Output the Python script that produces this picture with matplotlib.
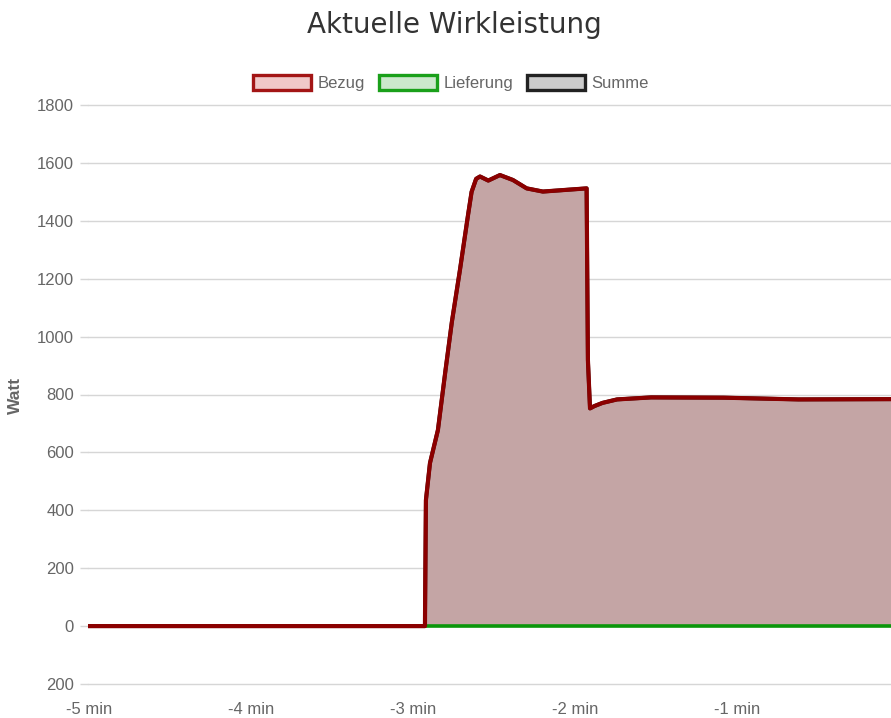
import matplotlib
matplotlib.use('Agg')
import matplotlib.pyplot as plt
from matplotlib.patches import Patch

# Zeitachse in Minuten, Leistung in Watt
zeit = [-5.0, -2.938, -2.926, -2.920, -2.895, -2.846, -2.80, -2.760, -2.710,
        -2.660, -2.638, -2.610, -2.586, -2.535, -2.463, -2.383, -2.298,
        -2.198, -2.051, -1.928, -1.920, -1.907, -1.880, -1.830, -1.740,
        -1.530, -1.080, -0.620, -0.049]
bezug = [0, 0, 0, 435, 563, 677, 880, 1050, 1230,
         1420, 1500, 1545, 1553, 1539, 1558, 1541, 1512,
         1501, 1507, 1512, 919, 752, 760, 771, 783,
         790, 789, 783, 784]
lieferung = [0] * len(zeit)
summe = [b - l for b, l in zip(bezug, lieferung)]

y_ticks = [-200, 0, 200, 400, 600, 800, 1000, 1200, 1400, 1600, 1800]
x_ticks = [-5, -4, -3, -2, -1]
x_labels = ['-5 min', '-4 min', '-3 min', '-2 min', '-1 min']

fig = plt.figure(figsize=(8.91, 7.18), dpi=100)
ax = fig.add_axes([88/891, 1 - 684/718, 1 - 88/891, (684 - 105)/718])

ax.fill_between(zeit, 0, summe, color='#c4a5a5', linewidth=0, zorder=2)
ax.plot(zeit, summe, color='#222222', linewidth=2.8, zorder=3)
ax.plot(zeit, lieferung, color='#0a960a', linewidth=2.6, zorder=4)
ax.plot(zeit, bezug, color='#8b0000', linewidth=3.0, zorder=5,
        solid_joinstyle='round')

ax.set_xlim(-5.006, -0.049)
ax.set_ylim(-200, 1800)
ax.set_yticks(y_ticks)
ax.set_yticklabels([str(abs(v)) for v in y_ticks])
ax.set_xticks(x_ticks)
ax.set_xticklabels(x_labels)

ax.grid(axis='y', color='#d6d6d6', linewidth=1.0, zorder=0)
ax.set_axisbelow(True)
for gl in ax.yaxis.get_gridlines():
    gl.set_clip_on(False)
for s in ax.spines.values():
    s.set_visible(False)
ax.tick_params(axis='y', length=6, color='#d6d6d6', width=1.0, pad=4,
               labelsize=12, labelcolor='#666666')
ax.tick_params(axis='x', length=0, pad=13, labelsize=12, labelcolor='#666666')
for lab in ax.get_xticklabels() + ax.get_yticklabels():
    lab.set_family('Liberation Sans')

fig.text(15/891, 1 - 395/718, 'Watt', rotation=90, ha='center', va='center',
         fontsize=12.5, color='#666666', fontweight='bold', family='Liberation Sans')
fig.text(454/891, 1 - 25/718, 'Aktuelle Wirkleistung', ha='center', va='center',
         fontsize=20, color='#333333', family='DejaVu Sans')

handles = [Patch(facecolor='#f0c8c8', edgecolor='#a31515', linewidth=2.4, label='Bezug'),
           Patch(facecolor='#cce8cc', edgecolor='#1aa01a', linewidth=2.4, label='Lieferung'),
           Patch(facecolor='#cccccc', edgecolor='#222222', linewidth=2.4, label='Summe')]
leg = fig.legend(handles=handles, loc='center', bbox_to_anchor=(451/891, 1 - 83/718),
                 ncol=3, frameon=False, handlelength=3.5, handleheight=1.05,
                 handletextpad=0.4, columnspacing=0.8,
                 prop={'family': 'Liberation Sans', 'size': 12})
for t in leg.get_texts():
    t.set_color('#666666')

fig.savefig('out.png', dpi=100)
